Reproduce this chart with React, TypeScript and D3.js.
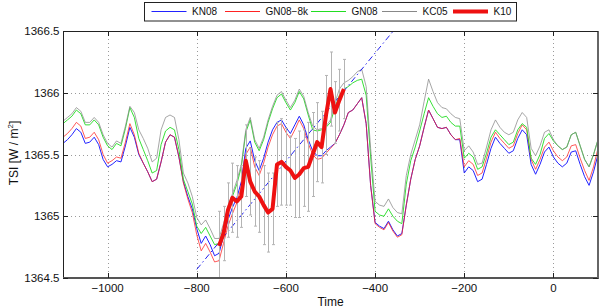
import * as React from 'react';
import * as d3 from 'd3';

// time axis of the reconstructions (10-year steps)
const years = d3.range(-1100, 101, 10);

const kn08 = [
  1365.59, 1365.62, 1365.66, 1365.71, 1365.68, 1365.59, 1365.60, 1365.64, 1365.58, 1365.46,
  1365.40, 1365.42, 1365.45, 1365.44, 1365.57, 1365.72, 1365.64, 1365.50, 1365.43, 1365.36,
  1365.28, 1365.30, 1365.44, 1365.60, 1365.66, 1365.64, 1365.48, 1365.28, 1365.16, 1365.06,
  1364.90, 1364.78, 1364.84, 1364.77, 1364.68, 1364.70, 1364.84, 1364.97, 1365.07, 1365.15,
  1365.28, 1365.55, 1365.61, 1365.45, 1365.37, 1365.47, 1365.60, 1365.70, 1365.76, 1365.78,
  1365.72, 1365.67, 1365.74, 1365.81, 1365.74, 1365.62, 1365.53, 1365.49, 1365.49, 1365.53,
  1365.56, 1365.59, 1365.66, 1365.74, 1365.84, 1365.86, 1365.91, 1365.96, 1365.75, 1365.25,
  1364.95, 1364.92, 1364.90, 1364.96, 1364.89, 1364.84, 1364.86, 1365.09, 1365.30, 1365.46,
  1365.57, 1365.72, 1365.86, 1365.79, 1365.72, 1365.71, 1365.72, 1365.66, 1365.62, 1365.62,
  1365.35, 1365.40, 1365.37, 1365.28, 1365.30, 1365.42, 1365.55, 1365.64, 1365.59, 1365.55,
  1365.51, 1365.53, 1365.63, 1365.70, 1365.66, 1365.42, 1365.34, 1365.42, 1365.52, 1365.56,
  1365.48, 1365.43, 1365.40, 1365.43, 1365.52, 1365.53, 1365.42, 1365.32, 1365.25, 1365.36,
  1365.50,
];

const gn08_8k = [
  1365.64, 1365.67, 1365.71, 1365.76, 1365.73, 1365.63, 1365.64, 1365.68, 1365.62, 1365.50,
  1365.43, 1365.45, 1365.48, 1365.47, 1365.60, 1365.75, 1365.66, 1365.51, 1365.43, 1365.36,
  1365.28, 1365.30, 1365.44, 1365.60, 1365.66, 1365.64, 1365.48, 1365.27, 1365.14, 1365.03,
  1364.85, 1364.72, 1364.78, 1364.71, 1364.63, 1364.64, 1364.78, 1364.92, 1365.02, 1365.11,
  1365.24, 1365.50, 1365.56, 1365.40, 1365.33, 1365.43, 1365.56, 1365.66, 1365.73, 1365.75,
  1365.68, 1365.63, 1365.70, 1365.78, 1365.71, 1365.59, 1365.50, 1365.46, 1365.47, 1365.51,
  1365.55, 1365.59, 1365.66, 1365.74, 1365.84, 1365.86, 1365.91, 1365.96, 1365.75, 1365.25,
  1364.94, 1364.91, 1364.89, 1364.95, 1364.88, 1364.83, 1364.85, 1365.09, 1365.30, 1365.46,
  1365.57, 1365.72, 1365.86, 1365.79, 1365.72, 1365.71, 1365.72, 1365.66, 1365.62, 1365.63,
  1365.40, 1365.45, 1365.42, 1365.33, 1365.35, 1365.47, 1365.60, 1365.68, 1365.63, 1365.59,
  1365.55, 1365.57, 1365.67, 1365.74, 1365.70, 1365.46, 1365.38, 1365.46, 1365.56, 1365.60,
  1365.53, 1365.48, 1365.45, 1365.48, 1365.57, 1365.58, 1365.47, 1365.37, 1365.29, 1365.40,
  1365.55,
];

const gn08 = [
  1365.75, 1365.78, 1365.81, 1365.86, 1365.83, 1365.74, 1365.74, 1365.78, 1365.74, 1365.64,
  1365.57, 1365.54, 1365.59, 1365.57, 1365.71, 1365.88, 1365.80, 1365.63, 1365.54, 1365.45,
  1365.35, 1365.37, 1365.58, 1365.69, 1365.72, 1365.70, 1365.54, 1365.30, 1365.20, 1365.10,
  1364.92, 1364.86, 1364.91, 1364.84, 1364.77, 1364.78, 1364.90, 1365.06, 1365.16, 1365.26,
  1365.40, 1365.68, 1365.78, 1365.60, 1365.53, 1365.62, 1365.76, 1365.87, 1365.96, 1365.99,
  1365.92, 1365.86, 1365.92, 1366.01, 1365.95, 1365.82, 1365.70, 1365.69, 1365.70, 1365.72,
  1365.76, 1365.88, 1365.98, 1366.03, 1366.05, 1366.08, 1366.10, 1366.11, 1365.98, 1365.48,
  1365.04, 1365.01, 1365.00, 1365.06, 1365.00, 1364.96, 1364.94, 1365.26, 1365.45, 1365.56,
  1365.69, 1365.83, 1365.96, 1365.89, 1365.83, 1365.80, 1365.81, 1365.76, 1365.73, 1365.73,
  1365.47, 1365.51, 1365.48, 1365.38, 1365.40, 1365.51, 1365.64, 1365.70, 1365.66, 1365.62,
  1365.58, 1365.60, 1365.70, 1365.75, 1365.72, 1365.47, 1365.42, 1365.50, 1365.63, 1365.67,
  1365.61, 1365.57, 1365.54, 1365.56, 1365.66, 1365.68, 1365.57, 1365.46, 1365.40, 1365.50,
  1365.62,
];

const kc05 = [
  1365.77, 1365.80, 1365.83, 1365.88, 1365.85, 1365.76, 1365.76, 1365.80, 1365.76, 1365.66,
  1365.59, 1365.56, 1365.61, 1365.59, 1365.73, 1365.89, 1365.84, 1365.70, 1365.63, 1365.55,
  1365.44, 1365.47, 1365.70, 1365.80, 1365.82, 1365.80, 1365.62, 1365.35, 1365.27, 1365.16,
  1364.99, 1364.93, 1364.97, 1364.90, 1364.82, 1364.82, 1364.94, 1365.08, 1365.18, 1365.29,
  1365.42, 1365.70, 1365.80, 1365.62, 1365.55, 1365.64, 1365.78, 1365.89, 1365.98, 1366.01,
  1365.94, 1365.88, 1365.94, 1366.03, 1365.97, 1365.84, 1365.73, 1365.70, 1365.71, 1365.73,
  1365.78, 1365.92, 1366.03, 1366.08, 1366.10, 1366.13, 1366.17, 1366.19, 1366.05, 1365.55,
  1365.12, 1365.09, 1365.08, 1365.14, 1365.07, 1365.03, 1365.02, 1365.33, 1365.50, 1365.62,
  1365.74, 1365.93, 1366.11, 1366.01, 1365.92, 1365.88, 1365.87, 1365.83, 1365.80, 1365.79,
  1365.53, 1365.57, 1365.52, 1365.42, 1365.43, 1365.56, 1365.70, 1365.78, 1365.72, 1365.68,
  1365.66, 1365.68, 1365.78, 1365.84, 1365.80, 1365.55, 1365.49, 1365.57, 1365.68, 1365.70,
  1365.62, 1365.57, 1365.54, 1365.56, 1365.66, 1365.68, 1365.57, 1365.46, 1365.40, 1365.50,
  1365.62,
];

// K10 with its error bars
const k10Years = d3.range(-750, -469, 10);
const k10 = [
  1364.76, 1364.86, 1365.05, 1365.15, 1365.12, 1365.16, 1365.45, 1365.28, 1365.20, 1365.16,
  1365.09, 1365.03, 1365.06, 1365.42, 1365.44, 1365.40, 1365.37, 1365.31, 1365.34, 1365.39,
  1365.40, 1365.50, 1365.60, 1365.56, 1365.82, 1366.03, 1365.84, 1365.94, 1366.03,
];
const k10Err = [
  0.28, 0.22, 0.22, 0.28, 0.29, 0.25, 0.29, 0.27, 0.28, 0.29,
  0.32, 0.32, 0.29, 0.34, 0.35, 0.31, 0.28, 0.32, 0.35, 0.31,
  0.36, 0.34, 0.32, 0.29, 0.32, 0.30, 0.25, 0.25, 0.24,
];

// dash-dot trend
const trendYears = [-800, -350];
const trendTSI = [1364.57, 1366.54];

const xTicks = [-1000, -800, -600, -400, -200, 0];
const yTicks = [1364.5, 1365, 1365.5, 1366, 1366.5];

const seriesNames = ['KN08', 'GN08\u22128k', 'GN08', 'KC05', 'K10'];
const seriesColors = ['#2222ff', '#ff2222', '#22dd22', '#888888', '#ee1111'];

const App: React.FC = () => {
  const ref = React.useRef<SVGSVGElement>(null);

  React.useEffect(() => {
    const W = 600, H = 308;
    const L = 63, R = 598, T = 31, B = 278;
    const font = '"Liberation Sans", Arial, Helvetica, sans-serif';

    const svg = d3.select(ref.current!);
    svg.selectAll('*').remove();
    svg.attr('width', W).attr('height', H).style('font-family', font);

    const x = d3.scaleLinear().domain([-1100, 100]).range([L, R]);
    const y = d3.scaleLinear().domain([1364.5, 1366.5]).range([B, T]);

    svg.append('rect').attr('width', W).attr('height', H).attr('fill', '#fff');

    svg.append('clipPath').attr('id', 'plot-clip')
      .append('rect').attr('x', L).attr('y', T).attr('width', R - L).attr('height', B - T);

    // grid
    const grid = svg.append('g').attr('stroke', '#9a9a9a').attr('stroke-width', 1)
      .attr('stroke-dasharray', '1,3');
    xTicks.forEach(t => {
      grid.append('line').attr('x1', Math.round(x(t)) + 0.5).attr('x2', Math.round(x(t)) + 0.5)
        .attr('y1', T).attr('y2', B);
    });
    yTicks.slice(1, -1).forEach(v => {
      grid.append('line').attr('y1', Math.round(y(v)) + 0.5).attr('y2', Math.round(y(v)) + 0.5)
        .attr('x1', L).attr('x2', R);
    });

    const plot = svg.append('g').attr('clip-path', 'url(#plot-clip)');

    const line = d3.line<number>()
      .x((_, i) => x(years[i]))
      .y(d => y(d));

    const series = [kn08, gn08_8k, gn08, kc05];
    const opac = [1, 0.75, 0.9, 0.75];
    series.forEach((s, i) => {
      plot.append('path').datum(s)
        .attr('fill', 'none')
        .attr('stroke', seriesColors[i])
        .attr('stroke-width', 1)
        .attr('stroke-opacity', opac[i])
        .attr('stroke-linejoin', 'round')
        .attr('d', line);
    });

    // trend
    plot.append('path').datum(trendTSI)
      .attr('fill', 'none')
      .attr('stroke', '#2222ee')
      .attr('stroke-width', 1)
      .attr('stroke-dasharray', '6,3,1.5,3')
      .attr('d', d3.line<number>().x((_, i) => x(trendYears[i])).y(d => y(d)));

    // error bars
    const eb = plot.append('g').attr('stroke', '#b4b4b4').attr('stroke-width', 1);
    k10.forEach((v, i) => {
      const cx = Math.round(x(k10Years[i])) + 0.5;
      eb.append('line').attr('x1', cx).attr('x2', cx)
        .attr('y1', y(v - k10Err[i])).attr('y2', y(v + k10Err[i]));
      [v - k10Err[i], v + k10Err[i]].forEach(e => {
        eb.append('line').attr('x1', cx - 1.5).attr('x2', cx + 1.5)
          .attr('y1', y(e)).attr('y2', y(e));
      });
    });

    plot.append('path').datum(k10)
      .attr('fill', 'none')
      .attr('stroke', seriesColors[4])
      .attr('stroke-width', 4)
      .attr('stroke-linejoin', 'round')
      .attr('d', d3.line<number>().x((_, i) => x(k10Years[i])).y(d => y(d)));

    // box + ticks
    svg.append('rect').attr('x', L + 0.5).attr('y', T + 0.5)
      .attr('width', R - L - 1).attr('height', B - T - 1)
      .attr('fill', 'none').attr('stroke', '#222').attr('stroke-width', 1);
    svg.append('line').attr('x1', L).attr('x2', R + 1).attr('y1', B).attr('y2', B)
      .attr('stroke', '#555').attr('stroke-width', 2);
    svg.append('line').attr('x1', R).attr('x2', R).attr('y1', T).attr('y2', B)
      .attr('stroke', '#666').attr('stroke-width', 2);

    const ticks = svg.append('g').attr('stroke', '#222').attr('stroke-width', 1);
    xTicks.forEach(t => {
      const px = Math.round(x(t)) + 0.5;
      ticks.append('line').attr('x1', px).attr('x2', px).attr('y1', B).attr('y2', B - 5);
      ticks.append('line').attr('x1', px).attr('x2', px).attr('y1', T).attr('y2', T + 5);
    });
    yTicks.forEach(v => {
      const py = Math.round(y(v)) + 0.5;
      ticks.append('line').attr('x1', L).attr('x2', L + 5).attr('y1', py).attr('y2', py);
      ticks.append('line').attr('x1', R).attr('x2', R - 5).attr('y1', py).attr('y2', py);
    });

    const fmt = (t: number) => (t < 0 ? '\u2212' + Math.abs(t) : String(t));
    xTicks.forEach(t => {
      svg.append('text').attr('x', x(t)).attr('y', 292)
        .attr('text-anchor', 'middle').attr('font-size', 11.5).attr('fill', '#111')
        .text(fmt(t));
    });
    yTicks.forEach(v => {
      svg.append('text').attr('x', 59.5).attr('y', y(v)).attr('dy', '0.35em')
        .attr('text-anchor', 'end').attr('font-size', 11.5).attr('fill', '#111')
        .text(String(v));
    });

    svg.append('text').attr('x', (L + R) / 2).attr('y', 305.5)
      .attr('text-anchor', 'middle').attr('font-size', 12).attr('fill', '#111')
      .text('Time');

    const yl = svg.append('text')
      .attr('transform', 'translate(17.5,153) rotate(-90)')
      .attr('text-anchor', 'middle').attr('font-size', 12).attr('fill', '#111');
    yl.append('tspan').text('TSI [W / m');
    yl.append('tspan').attr('font-size', 8).attr('dy', -5).text('2');
    yl.append('tspan').attr('dy', 5).text(']');

    // legend
    const lg = svg.append('g');
    lg.append('rect').attr('x', 144.5).attr('y', 2.5).attr('width', 372).attr('height', 18.5)
      .attr('fill', '#fff').attr('stroke', '#222').attr('stroke-width', 1);
    const starts = [151.5, 225, 311, 382, 453];
    seriesNames.forEach((n, i) => {
      lg.append('path')
        .attr('d', `M${starts[i]},11.5H${starts[i] + 35}`)
        .attr('fill', 'none')
        .attr('stroke', seriesColors[i]).attr('stroke-width', i === 4 ? 4 : 1);
      lg.append('text').attr('x', starts[i] + 40.5).attr('y', 15.2)
        .attr('font-size', 10).attr('fill', '#111').text(n);
    });
  }, []);

  return (
    <div style={{ position: 'absolute', left: 0, top: 0 }}>
      <svg ref={ref} style={{ display: 'block' }} />
    </div>
  );
};

export default App;
